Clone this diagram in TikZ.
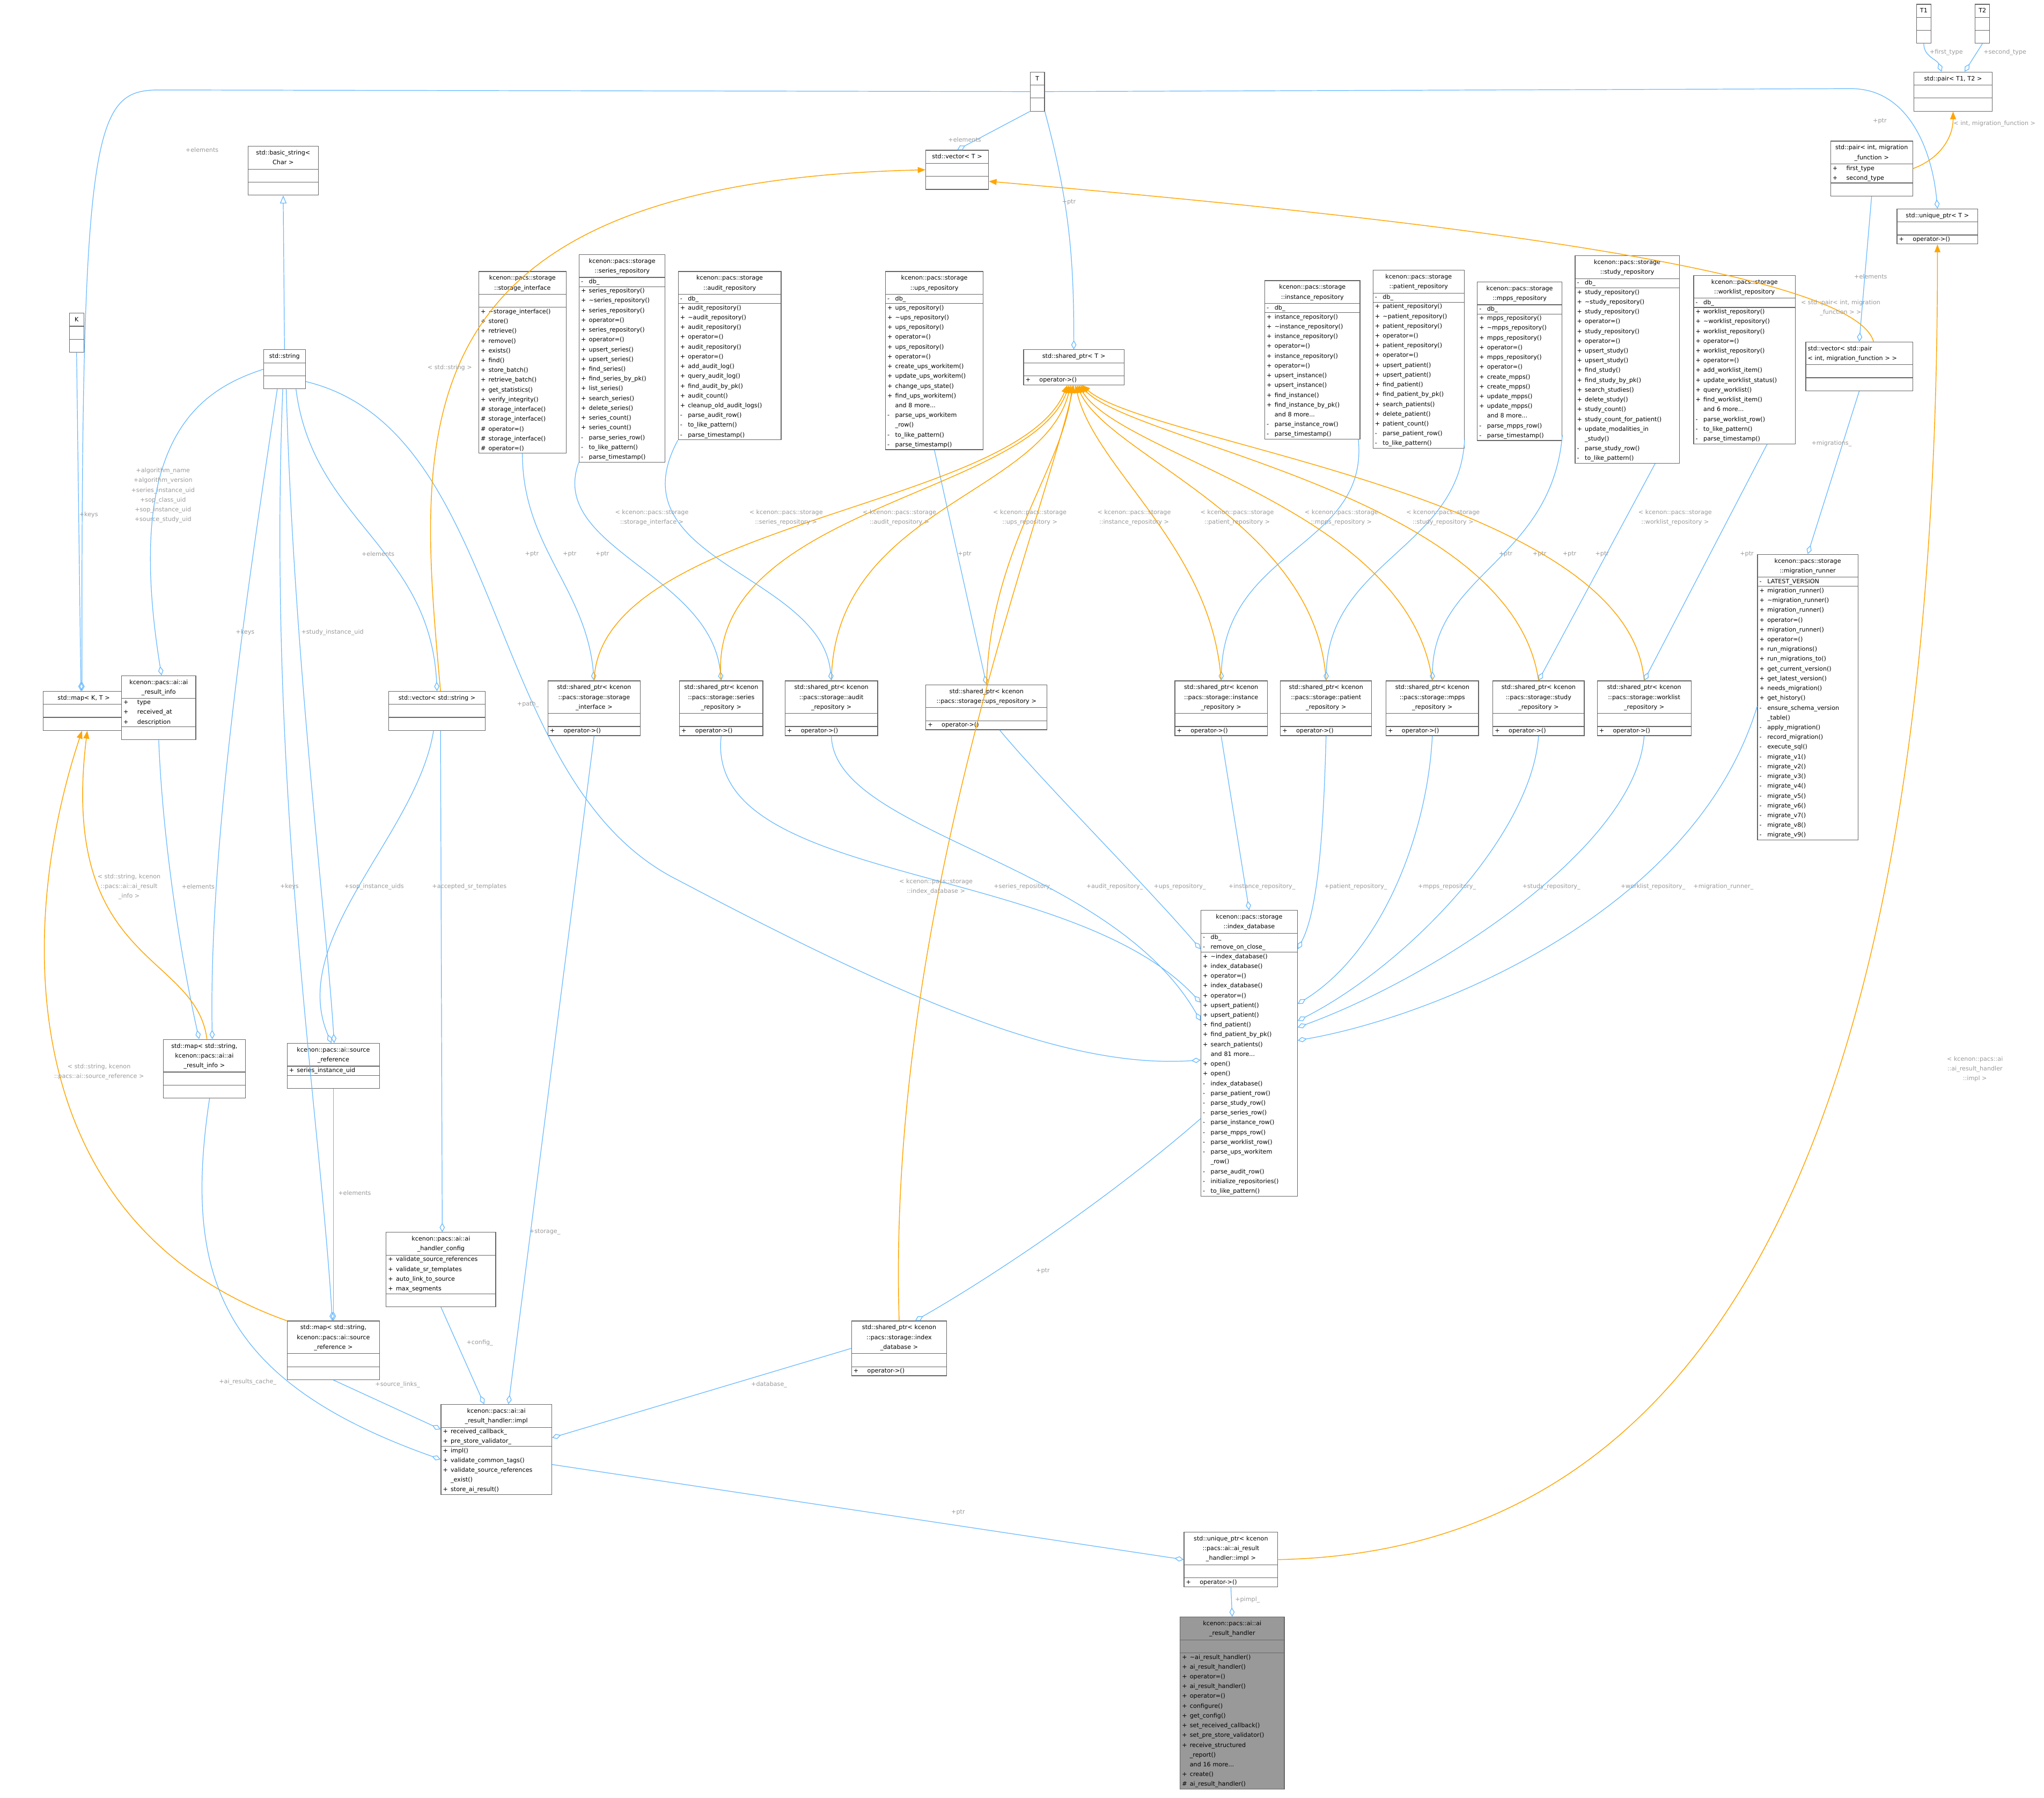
\documentclass[tikz,border=0pt]{standalone}
\usepackage{fontspec}
\setmainfont{DejaVu Sans}
\usetikzlibrary{shapes.multipart,arrows.meta}
\definecolor{edgeb}{HTML}{63B8FF}
\definecolor{edgeo}{HTML}{FFA500}
\definecolor{labc}{HTML}{9A9A9A}
\definecolor{boxc}{HTML}{666666}
\definecolor{grayf}{HTML}{999999}
\newcommand\fs{\fontsize{4.6}{7.5}\selectfont}
\newcommand\m[2]{\makebox[6pt][l]{#1}#2}
\newcommand\cn{\makebox[6pt]{}}
\newcommand\tld{\textasciitilde}
\newcommand\ttl[1]{{\centering\begin{tabular}{@{}c@{}}#1\end{tabular}\par}}
\newcommand\ttll[1]{\begin{tabular}{@{}l@{}}#1\end{tabular}}
\catcode`\_=12
\tikzset{
 cls/.style={rectangle split, rectangle split parts=3, draw=boxc, line width=0.5pt, fill=white,
   anchor=north west, inner xsep=1.5pt, inner ysep=1pt, font=\fs, align=left, text width=#1},
 agg/.style={draw=edgeb, line width=0.5pt, -{Diamond[open,length=7pt,width=4pt]}},
 inh/.style={draw=edgeb, line width=0.5pt, -{Triangle[open,length=6pt,width=5pt]}},
 tmp/.style={draw=edgeo, line width=0.6pt, -{Triangle[length=6pt,width=4.5pt]}},
 lbl/.style={font=\fs, text=labc, align=center, inner sep=0.5pt}
}
\begin{document}
\begin{tikzpicture}[x=1pt,y=-1pt]
\useasboundingbox[fill=white] (0,0) rectangle (1568,1379);
% ---- top templates
\node[cls=8pt] (T) at (790,55) {\ttl{T}\nodepart{two}\strut\nodepart{three}\strut};
\node[cls=8pt] (T1) at (1470,3) {\ttl{T1}\nodepart{two}\strut\nodepart{three}\strut};
\node[cls=8pt] (T2) at (1515,3) {\ttl{T2}\nodepart{two}\strut\nodepart{three}\strut};
\node[cls=57pt] (pairT) at (1468,55) {\ttl{std::pair< T1, T2 >}\nodepart{two}\strut\nodepart{three}\strut};
\node[cls=60pt] (pairmf) at (1404,108) {\ttl{std::pair< int, migration\\_function >}\nodepart{two}\m{+}{\quad first_type}\\\m{+}{\quad second_type}\nodepart{three}\strut};
\node[cls=59pt] (uptrT) at (1455,160) {\ttl{std::unique_ptr< T >}\nodepart{two}\strut\nodepart{three}\m{+}{\quad operator->()}};
\node[cls=45pt] (vecT) at (710,115) {\ttl{std::vector< T >}\nodepart{two}\strut\nodepart{three}\strut};
\node[cls=51pt] (bstr) at (190,112) {\ttl{std::basic_string<\\ Char >}\nodepart{two}\strut\nodepart{three}\strut};
\node[cls=8pt] (K) at (53,240) {\ttl{K}\nodepart{two}\strut\nodepart{three}\strut};
\node[cls=29pt] (str) at (202,268) {\ttl{std::string}\nodepart{two}\strut\nodepart{three}\strut};
\node[cls=59pt] (mapKT) at (33,530) {\ttl{std::map< K, T >}\nodepart{two}\strut\nodepart{three}\strut};
\node[cls=54pt] (info) at (93,518) {\ttl{kcenon::pacs::ai::ai\\_result_info}\nodepart{two}\m{+}{\quad type}\\\m{+}{\quad received_at}\\\m{+}{\quad description}\nodepart{three}\strut};
\node[cls=71pt] (vecs) at (298,530) {\ttl{std::vector< std::string >}\nodepart{two}\strut\nodepart{three}\strut};
% ---- repositories
\node[cls=64pt] (si) at (367,208) {\ttl{kcenon::pacs::storage\\::storage_interface}\nodepart{two}\strut\nodepart{three}\m{+}{\tld storage_interface()}\\\m{+}{store()}\\\m{+}{retrieve()}\\\m{+}{remove()}\\\m{+}{exists()}\\\m{+}{find()}\\\m{+}{store_batch()}\\\m{+}{retrieve_batch()}\\\m{+}{get_statistics()}\\\m{+}{verify_integrity()}\\\m{\#}{storage_interface()}\\\m{\#}{storage_interface()}\\\m{\#}{operator=()}\\\m{\#}{storage_interface()}\\\m{\#}{operator=()}};
\node[cls=63pt] (ser) at (444,195) {\ttl{kcenon::pacs::storage\\::series_repository}\nodepart{two}\m{-}{db_}\nodepart{three}\m{+}{series_repository()}\\\m{+}{\tld series_repository()}\\\m{+}{series_repository()}\\\m{+}{operator=()}\\\m{+}{series_repository()}\\\m{+}{operator=()}\\\m{+}{upsert_series()}\\\m{+}{upsert_series()}\\\m{+}{find_series()}\\\m{+}{find_series_by_pk()}\\\m{+}{list_series()}\\\m{+}{search_series()}\\\m{+}{delete_series()}\\\m{+}{series_count()}\\\m{+}{series_count()}\\\m{-}{parse_series_row()}\\\m{-}{to_like_pattern()}\\\m{-}{parse_timestamp()}};
\node[cls=76pt] (aud) at (520,208) {\ttl{kcenon::pacs::storage\\::audit_repository}\nodepart{two}\m{-}{db_}\nodepart{three}\m{+}{audit_repository()}\\\m{+}{\tld audit_repository()}\\\m{+}{audit_repository()}\\\m{+}{operator=()}\\\m{+}{audit_repository()}\\\m{+}{operator=()}\\\m{+}{add_audit_log()}\\\m{+}{query_audit_log()}\\\m{+}{find_audit_by_pk()}\\\m{+}{audit_count()}\\\m{+}{cleanup_old_audit_logs()}\\\m{-}{parse_audit_row()}\\\m{-}{to_like_pattern()}\\\m{-}{parse_timestamp()}};
\node[cls=72pt] (ups) at (679,208) {\ttl{kcenon::pacs::storage\\::ups_repository}\nodepart{two}\m{-}{db_}\nodepart{three}\m{+}{ups_repository()}\\\m{+}{\tld ups_repository()}\\\m{+}{ups_repository()}\\\m{+}{operator=()}\\\m{+}{ups_repository()}\\\m{+}{operator=()}\\\m{+}{create_ups_workitem()}\\\m{+}{update_ups_workitem()}\\\m{+}{change_ups_state()}\\\m{+}{find_ups_workitem()}\\\cn and 8 more...\\\m{-}{parse_ups_workitem}\\\cn _row()\\\m{-}{to_like_pattern()}\\\m{-}{parse_timestamp()}};
\node[cls=74pt] (spT) at (785,268) {\ttl{std::shared_ptr< T >}\nodepart{two}\strut\nodepart{three}\m{+}{\quad operator->()}};
\node[cls=70pt] (inst) at (970,215) {\ttl{kcenon::pacs::storage\\::instance_repository}\nodepart{two}\m{-}{db_}\nodepart{three}\m{+}{instance_repository()}\\\m{+}{\tld instance_repository()}\\\m{+}{instance_repository()}\\\m{+}{operator=()}\\\m{+}{instance_repository()}\\\m{+}{operator=()}\\\m{+}{upsert_instance()}\\\m{+}{upsert_instance()}\\\m{+}{find_instance()}\\\m{+}{find_instance_by_pk()}\\\cn and 8 more...\\\m{-}{parse_instance_row()}\\\m{-}{parse_timestamp()}};
\node[cls=67pt] (pat) at (1053,207) {\ttl{kcenon::pacs::storage\\::patient_repository}\nodepart{two}\m{-}{db_}\nodepart{three}\m{+}{patient_repository()}\\\m{+}{\tld patient_repository()}\\\m{+}{patient_repository()}\\\m{+}{operator=()}\\\m{+}{patient_repository()}\\\m{+}{operator=()}\\\m{+}{upsert_patient()}\\\m{+}{upsert_patient()}\\\m{+}{find_patient()}\\\m{+}{find_patient_by_pk()}\\\m{+}{search_patients()}\\\m{+}{delete_patient()}\\\m{+}{patient_count()}\\\m{-}{parse_patient_row()}\\\m{-}{to_like_pattern()}};
\node[cls=62pt] (mpps) at (1133,216) {\ttl{kcenon::pacs::storage\\::mpps_repository}\nodepart{two}\m{-}{db_}\nodepart{three}\m{+}{mpps_repository()}\\\m{+}{\tld mpps_repository()}\\\m{+}{mpps_repository()}\\\m{+}{operator=()}\\\m{+}{mpps_repository()}\\\m{+}{operator=()}\\\m{+}{create_mpps()}\\\m{+}{create_mpps()}\\\m{+}{update_mpps()}\\\m{+}{update_mpps()}\\\cn and 8 more...\\\m{-}{parse_mpps_row()}\\\m{-}{parse_timestamp()}};
\node[cls=77pt] (study) at (1208,196) {\ttl{kcenon::pacs::storage\\::study_repository}\nodepart{two}\m{-}{db_}\nodepart{three}\m{+}{study_repository()}\\\m{+}{\tld study_repository()}\\\m{+}{study_repository()}\\\m{+}{operator=()}\\\m{+}{study_repository()}\\\m{+}{operator=()}\\\m{+}{upsert_study()}\\\m{+}{upsert_study()}\\\m{+}{find_study()}\\\m{+}{find_study_by_pk()}\\\m{+}{search_studies()}\\\m{+}{delete_study()}\\\m{+}{study_count()}\\\m{+}{study_count_for_patient()}\\\m{+}{update_modalities_in}\\\cn _study()\\\m{-}{parse_study_row()}\\\m{-}{to_like_pattern()}};
\node[cls=75pt] (wl) at (1299,211) {\ttl{kcenon::pacs::storage\\::worklist_repository}\nodepart{two}\m{-}{db_}\nodepart{three}\m{+}{worklist_repository()}\\\m{+}{\tld worklist_repository()}\\\m{+}{worklist_repository()}\\\m{+}{operator=()}\\\m{+}{worklist_repository()}\\\m{+}{operator=()}\\\m{+}{add_worklist_item()}\\\m{+}{update_worklist_status()}\\\m{+}{query_worklist()}\\\m{+}{find_worklist_item()}\\\cn and 6 more...\\\m{-}{parse_worklist_row()}\\\m{-}{to_like_pattern()}\\\m{-}{parse_timestamp()}};
\node[cls=79pt] (vpair) at (1385,262) {\ttll{std::vector< std::pair\\< int, migration_function > >}\nodepart{two}\strut\nodepart{three}\strut};
\node[cls=74pt] (mr) at (1348,425) {\ttl{kcenon::pacs::storage\\::migration_runner}\nodepart{two}\m{-}{LATEST_VERSION}\nodepart{three}\m{+}{migration_runner()}\\\m{+}{\tld migration_runner()}\\\m{+}{migration_runner()}\\\m{+}{operator=()}\\\m{+}{migration_runner()}\\\m{+}{operator=()}\\\m{+}{run_migrations()}\\\m{+}{run_migrations_to()}\\\m{+}{get_current_version()}\\\m{+}{get_latest_version()}\\\m{+}{needs_migration()}\\\m{+}{get_history()}\\\m{-}{ensure_schema_version}\\\cn _table()\\\m{-}{apply_migration()}\\\m{-}{record_migration()}\\\m{-}{execute_sql()}\\\m{-}{migrate_v1()}\\\m{-}{migrate_v2()}\\\m{-}{migrate_v3()}\\\m{-}{migrate_v4()}\\\m{-}{migrate_v5()}\\\m{-}{migrate_v6()}\\\m{-}{migrate_v7()}\\\m{-}{migrate_v8()}\\\m{-}{migrate_v9()}};
% ---- shared_ptrs
\node[cls=68pt] (spsi) at (420,522) {\ttl{std::shared_ptr< kcenon\\::pacs::storage::storage\\_interface >}\nodepart{two}\strut\nodepart{three}\m{+}{\quad operator->()}};
\node[cls=61pt] (spser) at (521,522) {\ttl{std::shared_ptr< kcenon\\::pacs::storage::series\\_repository >}\nodepart{two}\strut\nodepart{three}\m{+}{\quad operator->()}};
\node[cls=68pt] (spaud) at (602,522) {\ttl{std::shared_ptr< kcenon\\::pacs::storage::audit\\_repository >}\nodepart{two}\strut\nodepart{three}\m{+}{\quad operator->()}};
\node[cls=90pt] (spups) at (710,525) {\ttl{std::shared_ptr< kcenon\\::pacs::storage::ups_repository >}\nodepart{two}\strut\nodepart{three}\m{+}{\quad operator->()}};
\node[cls=68pt] (spinst) at (901,522) {\ttl{std::shared_ptr< kcenon\\::pacs::storage::instance\\_repository >}\nodepart{two}\strut\nodepart{three}\m{+}{\quad operator->()}};
\node[cls=67pt] (sppat) at (982,522) {\ttl{std::shared_ptr< kcenon\\::pacs::storage::patient\\_repository >}\nodepart{two}\strut\nodepart{three}\m{+}{\quad operator->()}};
\node[cls=68pt] (spmpps) at (1063,522) {\ttl{std::shared_ptr< kcenon\\::pacs::storage::mpps\\_repository >}\nodepart{two}\strut\nodepart{three}\m{+}{\quad operator->()}};
\node[cls=67pt] (spstudy) at (1145,522) {\ttl{std::shared_ptr< kcenon\\::pacs::storage::study\\_repository >}\nodepart{two}\strut\nodepart{three}\m{+}{\quad operator->()}};
\node[cls=69pt] (spwl) at (1225,522) {\ttl{std::shared_ptr< kcenon\\::pacs::storage::worklist\\_repository >}\nodepart{two}\strut\nodepart{three}\m{+}{\quad operator->()}};
% ---- lower
\node[cls=60pt] (map2) at (125,797) {\ttl{std::map< std::string,\\kcenon::pacs::ai::ai\\_result_info >}\nodepart{two}\strut\nodepart{three}\strut};
\node[cls=68pt] (sr) at (220,800) {\ttl{kcenon::pacs::ai::source\\_reference}\nodepart{two}\m{+}{series_instance_uid}\nodepart{three}\strut};
\node[cls=71pt] (idx) at (921,698) {\ttl{kcenon::pacs::storage\\::index_database}\nodepart{two}\m{-}{db_}\\\m{-}{remove_on_close_}\nodepart{three}\m{+}{\tld index_database()}\\\m{+}{index_database()}\\\m{+}{operator=()}\\\m{+}{index_database()}\\\m{+}{operator=()}\\\m{+}{upsert_patient()}\\\m{+}{upsert_patient()}\\\m{+}{find_patient()}\\\m{+}{find_patient_by_pk()}\\\m{+}{search_patients()}\\\cn and 81 more...\\\m{+}{open()}\\\m{+}{open()}\\\m{-}{index_database()}\\\m{-}{parse_patient_row()}\\\m{-}{parse_study_row()}\\\m{-}{parse_series_row()}\\\m{-}{parse_instance_row()}\\\m{-}{parse_mpps_row()}\\\m{-}{parse_worklist_row()}\\\m{-}{parse_ups_workitem}\\\cn _row()\\\m{-}{parse_audit_row()}\\\m{-}{initialize_repositories()}\\\m{-}{to_like_pattern()}};
\node[cls=81pt] (cfg) at (296,945) {\ttl{kcenon::pacs::ai::ai\\_handler_config}\nodepart{two}\m{+}{validate_source_references}\\\m{+}{validate_sr_templates}\\\m{+}{auto_link_to_source}\\\m{+}{max_segments}\nodepart{three}\strut};
\node[cls=68pt] (map3) at (220,1013) {\ttl{std::map< std::string,\\kcenon::pacs::ai::source\\_reference >}\nodepart{two}\strut\nodepart{three}\strut};
\node[cls=70pt] (spdb) at (653,1013) {\ttl{std::shared_ptr< kcenon\\::pacs::storage::index\\_database >}\nodepart{two}\strut\nodepart{three}\m{+}{\quad operator->()}};
\node[cls=82pt] (impl) at (338,1077) {\ttl{kcenon::pacs::ai::ai\\_result_handler::impl}\nodepart{two}\m{+}{received_callback_}\\\m{+}{pre_store_validator_}\nodepart{three}\m{+}{impl()}\\\m{+}{validate_common_tags()}\\\m{+}{validate_source_references}\\\cn _exist()\\\m{+}{store_ai_result()}};
\node[cls=69pt] (uimpl) at (908,1175) {\ttl{std::unique_ptr< kcenon\\::pacs::ai::ai_result\\_handler::impl >}\nodepart{two}\strut\nodepart{three}\m{+}{\quad operator->()}};
\node[cls=77pt, fill=grayf] (arh) at (905,1240) {\ttl{kcenon::pacs::ai::ai\\_result_handler}\nodepart{two}\strut\nodepart{three}\m{+}{\tld ai_result_handler()}\\\m{+}{ai_result_handler()}\\\m{+}{operator=()}\\\m{+}{ai_result_handler()}\\\m{+}{operator=()}\\\m{+}{configure()}\\\m{+}{get_config()}\\\m{+}{set_received_callback()}\\\m{+}{set_pre_store_validator()}\\\m{+}{receive_structured}\\\cn _report()\\\cn and 16 more...\\\m{+}{create()}\\\m{\#}{ai_result_handler()}};

% ===== edges
\draw[agg] (T.south west) -- (vecT.north);
\node[lbl] (l1) at (740,107) {+elements};
\draw[agg] (T.south east) to[out=-75,in=90] (spT.north);
\node[lbl] (l2) at (820,155) {+ptr};
\draw[agg] (T.west) -- (120,69) .. controls (72,70) and (62,100) .. (mapKT.95);
\node[lbl] (l3) at (155,115) {+elements};
\draw[agg] (T.east) -- (1420,68) to[out=0,in=95] (uptrT.north);
\node[lbl] (l4) at (1442,93) {+ptr};
\draw[agg] (K.south) -- (mapKT.98);
\node[lbl] (l5) at (68,395) {+keys};
\draw[inh] (str.north) -- (bstr.south);
\draw[agg] (str.west) .. controls (150,300) and (95,340) .. (info.85);
\node[lbl] (l6) at (125,380) {+algorithm_name\\+algorithm_version\\+series_instance_uid\\+sop_class_uid\\+sop_instance_uid\\+source_study_uid};
\draw[agg] (str.-110) .. controls (190,450) and (160,650) .. (map2.75);
\node[lbl] (l7) at (188,485) {+keys};
\draw[agg] (str.-60) .. controls (240,400) and (330,420) .. (vecs.north);
\node[lbl] (l8) at (290,425) {+elements};
\draw[agg] (str.-85) .. controls (225,500) and (250,700) .. (sr.88);
\node[lbl] (l9) at (255,485) {+study_instance_uid};
\draw[agg] (str.-95) .. controls (205,600) and (245,850) .. (map3.92);
\node[lbl] (l10) at (222,680) {+keys};
\draw[agg] (str.-30) .. controls (390,330) and (370,600) .. (520,675) .. controls (700,770) and (820,820) .. (idx.-172);
\node[lbl] (l11) at (405,540) {+path_};
\draw[agg] (vecs.-100) .. controls (320,640) and (220,720) .. (sr.95);
\node[lbl] (l12) at (287,680) {+sop_instance_uids};
\draw[agg] (vecs.-80) -- (cfg.88);
\node[lbl] (l13) at (360,680) {+accepted_sr_templates};
\draw[tmp] (vecs.80) .. controls (320,330) and (300,140) .. (vecT.west);
\node[lbl] (l14) at (345,282) {< std::string >};
\draw[agg] (info.south) .. controls (125,650) and (140,740) .. (map2.100);
\node[lbl] (l15) at (152,680) {+elements};
\draw[tmp] (map2.85) .. controls (150,730) and (45,740) .. (mapKT.-80);
\node[lbl] (l16) at (99,680) {< std::string, kcenon\\::pacs::ai::ai_result\\_info >};
\draw[tmp] (map3.north west) .. controls (15,940) and (10,720) .. (mapKT.-95);
\node[lbl] (l17) at (76,822) {< std::string, kcenon\\::pacs::ai::source_reference >};
\draw[agg] (sr.south) -- (map3.north);
\node[lbl] (l18) at (272,915) {+elements};
\draw[agg] (map2.-80) .. controls (140,980) and (170,1060) .. (impl.-170);
\node[lbl] (l19) at (190,1060) {+ai_results_cache_};
\draw[agg] (map3.south) -- (impl.160);
\node[lbl] (l20) at (305,1062) {+source_links_};
\draw[agg] (cfg.south) -- (impl.105);
\node[lbl] (l21) at (368,1030) {+config_};
\draw[agg] (spsi.south) -- (impl.75);
\node[lbl] (l22) at (418,945) {+storage_};
\draw[agg] (spdb.west) -- (impl.12);
\node[lbl] (l23) at (590,1062) {+database_};
\draw[agg] (impl.-15) -- (uimpl.west);
\node[lbl] (l24) at (735,1160) {+ptr};
\draw[agg] (uimpl.south) -- (arh.north);
\node[lbl] (l25) at (957,1227) {+pimpl_};
\draw[tmp] (uimpl.east) .. controls (1300,1190) and (1487,900) .. (uptrT.south);
\node[lbl] (l26) at (1515,820) {< kcenon::pacs::ai\\::ai_result_handler\\::impl >};
\draw[tmp] (pairmf.east) to[out=20,in=-90] (pairT.south);
\node[lbl] (l27) at (1530,95) {< int, migration_function >};
\draw[agg] (T1.south) to[out=-90,in=110] (pairT.120);
\node[lbl] (l28) at (1493,40) {+first_type};
\draw[agg] (T2.south) -- (pairT.60);
\node[lbl] (l29) at (1538,40) {+second_type};
\draw[agg] (pairmf.south) -- (vpair.north);
\node[lbl] (l30) at (1435,212) {+elements};
\draw[tmp] (vpair.60) .. controls (1420,200) and (1000,160) .. (vecT.-20);
\node[lbl] (l31) at (1412,236) {< std::pair< int, migration\\_function > >};
\draw[agg] (vpair.south) -- (mr.north);
\node[lbl] (l32) at (1405,340) {+migrations_};
% repos -> shared_ptr
\draw[agg] (si.south) to[out=-90,in=95] (spsi.north);
\node[lbl] (l33) at (408,425) {+ptr};
\draw[agg] (ser.south west) .. controls (420,420) and (545,440) .. (spser.north);
\node[lbl] (l34) at (437,425) {+ptr};
\draw[agg] (aud.south west) .. controls (470,430) and (630,440) .. (spaud.north);
\node[lbl] (l35) at (462,425) {+ptr};
\draw[agg] (ups.south) -- (spups.north);
\node[lbl] (l36) at (740,425) {+ptr};
\draw[agg] (inst.-60) .. controls (1050,420) and (940,420) .. (spinst.north);
\node[lbl] (l37) at (1155,425) {+ptr};
\draw[agg] (pat.-60) .. controls (1120,420) and (1020,430) .. (sppat.north);
\node[lbl] (l38) at (1181,425) {+ptr};
\draw[agg] (mpps.-60) .. controls (1190,430) and (1100,440) .. (spmpps.north);
\node[lbl] (l39) at (1204,425) {+ptr};
\draw[agg] (study.-75) -- (spstudy.north);
\node[lbl] (l40) at (1229,425) {+ptr};
\draw[agg] (wl.-75) -- (spwl.north);
\node[lbl] (l41) at (1340,425) {+ptr};
% shared_ptr -> shared_ptr<T>
\draw[tmp] (spsi.north) .. controls (460,400) and (780,390) .. (spT.-110);
\node[lbl] (l42) at (500,397) {< kcenon::pacs::storage\\::storage_interface >};
\draw[tmp] (spser.north) .. controls (540,390) and (790,380) .. (spT.-105);
\node[lbl] (l43) at (603,397) {< kcenon::pacs::storage\\::series_repository >};
\draw[tmp] (spaud.north) .. controls (640,390) and (800,380) .. (spT.-100);
\node[lbl] (l44) at (690,397) {< kcenon::pacs::storage\\::audit_repository >};
\draw[tmp] (spups.north) .. controls (760,420) and (815,360) .. (spT.-95);
\node[lbl] (l45) at (790,397) {< kcenon::pacs::storage\\::ups_repository >};
\draw[tmp] (spinst.north) .. controls (930,420) and (840,360) .. (spT.-85);
\node[lbl] (l46) at (870,397) {< kcenon::pacs::storage\\::instance_repository >};
\draw[tmp] (sppat.north) .. controls (1010,400) and (850,350) .. (spT.-80);
\node[lbl] (l47) at (949,397) {< kcenon::pacs::storage\\::patient_repository >};
\draw[tmp] (spmpps.north) .. controls (1080,390) and (860,350) .. (spT.-75);
\node[lbl] (l48) at (1029,397) {< kcenon::pacs::storage\\::mpps_repository >};
\draw[tmp] (spstudy.north) .. controls (1160,380) and (870,340) .. (spT.-70);
\node[lbl] (l49) at (1107,397) {< kcenon::pacs::storage\\::study_repository >};
\draw[tmp] (spwl.north) .. controls (1250,380) and (880,340) .. (spT.-65);
\node[lbl] (l50) at (1285,397) {< kcenon::pacs::storage\\::worklist_repository >};
\draw[tmp] (spdb.north) .. controls (680,700) and (800,400) .. (spT.-90);
\node[lbl] (l51) at (718,680) {< kcenon::pacs::storage\\::index_database >};
% shared_ptr -> index_database
\draw[agg] (spser.south) .. controls (540,680) and (820,660) .. ([yshift=-71pt]idx.north west);
\node[lbl] (l52) at (785,680) {+series_repository_};
\draw[agg] (spaud.south) .. controls (640,640) and (850,660) .. ([yshift=-85pt]idx.north west);
\node[lbl] (l53) at (855,680) {+audit_repository_};
\draw[agg] (spups.-60) .. controls (800,600) and (880,680) .. ([yshift=-30pt]idx.north west);
\node[lbl] (l54) at (905,680) {+ups_repository_};
\draw[agg] (spinst.south) -- (idx.north);
\node[lbl] (l55) at (968,680) {+instance_repository_};
\draw[agg] (sppat.south) .. controls (1015,650) and (1010,700) .. ([yshift=-30pt]idx.north east);
\node[lbl] (l56) at (1040,680) {+patient_repository_};
\draw[agg] (spmpps.south) .. controls (1095,640) and (1060,730) .. ([yshift=-72pt]idx.north east);
\node[lbl] (l57) at (1110,680) {+mpps_repository_};
\draw[agg] (spstudy.south) .. controls (1175,640) and (1080,740) .. ([yshift=-85pt]idx.north east);
\node[lbl] (l58) at (1190,680) {+study_repository_};
\draw[agg] (spwl.south) .. controls (1255,650) and (1100,750) .. ([yshift=-90pt]idx.north east);
\node[lbl] (l59) at (1268,680) {+worklist_repository_};
\draw[agg] (mr.-170) .. controls (1300,700) and (1100,780) .. ([yshift=-100pt]idx.north east);
\node[lbl] (l60) at (1322,680) {+migration_runner_};
\draw[agg] ([yshift=-160pt]idx.north west) .. controls (850,920) and (760,980) .. (spdb.60);
\node[lbl] (l61) at (800,975) {+ptr};
\end{tikzpicture}
\end{document}
